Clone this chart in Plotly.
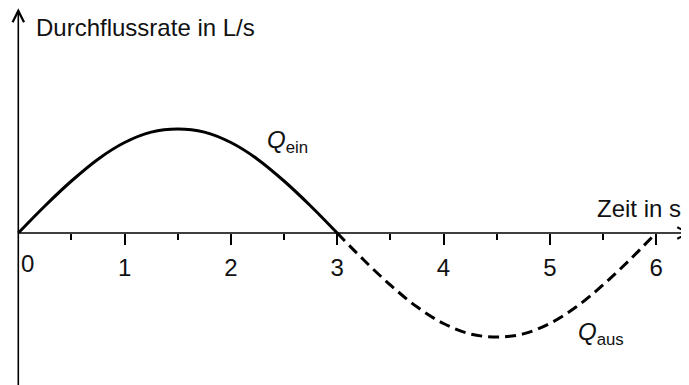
import plotly.graph_objs as go

# Zeit in s
zeit_ein = [0, 0.25, 0.5, 0.75, 1, 1.25, 1.5, 1.75, 2, 2.25, 2.5, 2.75, 3]
zeit_aus = [3, 3.25, 3.5, 3.75, 4, 4.25, 4.5, 4.75, 5, 5.25, 5.5, 5.75, 6]
# Durchflussrate (ohne Skala)
q_ein = [0, 0.26, 0.5, 0.71, 0.87, 0.97, 1.0, 0.97, 0.87, 0.71, 0.5, 0.26, 0]
q_aus = [0, -0.26, -0.5, -0.71, -0.87, -0.97, -1.0, -0.97, -0.87, -0.71, -0.5, -0.26, 0]

tick_vals = [1, 2, 3, 4, 5, 6]
tick_text = ['1', '2', '3', '4', '5', '6']
minor_vals = [0.5, 1.5, 2.5, 3.5, 4.5, 5.5]

FONT = 'Liberation Sans'
SIZE = 24

trace_ein = go.Scatter(
    x=zeit_ein, y=q_ein,
    mode='lines',
    line=dict(color='black', width=3, shape='spline'),
    hoverinfo='skip')

trace_aus = go.Scatter(
    x=zeit_aus, y=q_aus,
    mode='lines',
    line=dict(color='black', width=3, shape='spline', dash='11px,6px'),
    hoverinfo='skip')

annotations = [
    # x-Achse mit Pfeil
    dict(x=6.33, y=0, ax=0, ay=0, xref='x', yref='y', axref='x', ayref='y',
         showarrow=True, arrowhead=5, arrowsize=1.4, arrowwidth=1.6,
         arrowcolor='black', standoff=0, text=''),
    # y-Achse mit Pfeil
    dict(x=0, y=2.16, ax=0, ay=-1.5, xref='x', yref='y', axref='x', ayref='y',
         showarrow=True, arrowhead=5, arrowsize=1.4, arrowwidth=1.6,
         arrowcolor='black', standoff=0, text=''),
    dict(x=0.15, y=1.98, xref='x', yref='y', xanchor='left', yanchor='middle',
         showarrow=False, text='Durchflussrate in L/s',
         font=dict(family=FONT, size=SIZE, color='#111')),
    dict(x=6.25, y=0.24, xref='x', yref='y', xanchor='right', yanchor='middle',
         showarrow=False, text='Zeit in s',
         font=dict(family=FONT, size=SIZE, color='#111')),
    dict(x=0, y=0, xref='x', yref='y', xanchor='left', yanchor='top',
         xshift=1, yshift=-15, showarrow=False, text='0',
         font=dict(family=FONT, size=SIZE, color='#111')),
    dict(x=2.32, y=0.88, xref='x', yref='y', xanchor='left', yanchor='middle',
         showarrow=False, text='<i>Q</i><sub>ein</sub>',
         font=dict(family=FONT, size=SIZE, color='#111')),
    dict(x=5.247, y=-0.97, xref='x', yref='y', xanchor='left', yanchor='middle',
         showarrow=False, text='<i>Q</i><sub>aus</sub>',
         font=dict(family=FONT, size=SIZE, color='#111')),
]

# die Seite hat 8px Rand, daher 681x377
graphLayout = go.Layout(
    showlegend=False,
    autosize=False,
    width=681,
    height=377,
    margin=dict(l=0, r=0, t=0, b=0),
    plot_bgcolor='white',
    paper_bgcolor='white',
    xaxis=dict(
        range=[-0.0969, 6.3095],
        anchor='free',
        position=(377 - 225) / 377,
        showline=False,
        showgrid=False,
        zeroline=False,
        ticks='outside',
        ticklen=11,
        tickwidth=2,
        tickcolor='black',
        tickvals=tick_vals,
        ticktext=tick_text,
        ticklabelstandoff=2,
        tickfont=dict(family=FONT, size=SIZE, color='#111'),
        minor=dict(tickvals=minor_vals, ticks='outside', ticklen=6,
                   tickwidth=2, tickcolor='black'),
    ),
    yaxis=dict(
        range=[-1.4615, 2.1635],
        visible=False,
    ),
    annotations=annotations,
)

fig = go.Figure(data=[trace_ein, trace_aus], layout=graphLayout)
fig.write_html("out.html")
